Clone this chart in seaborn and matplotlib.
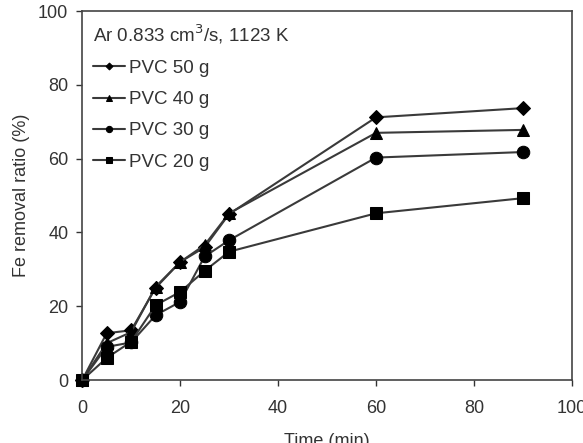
import pandas as pd
import numpy as np
import seaborn as sns
import matplotlib.pyplot as plt

# data
time_min = [0, 5, 10, 15, 20, 25, 30, 60, 90]
pvc_50 = [0, 12.7, 13.5, 25.0, 32.0, 36.0, 45.0, 71.2, 73.7]
pvc_40 = [0, 10.0, 13.0, 25.3, 32.0, 36.6, 45.2, 67.0, 67.8]
pvc_30 = [0, 9.0, 10.2, 17.6, 21.2, 33.5, 37.9, 60.3, 61.8]
pvc_20 = [0, 6.0, 10.4, 20.3, 23.9, 29.6, 34.8, 45.2, 49.3]

labels = ["PVC 50 g", "PVC 40 g", "PVC 30 g", "PVC 20 g"]
series = [pvc_50, pvc_40, pvc_30, pvc_20]
markers = ["D", "^", "o", "s"]
msizes = [7, 8, 9, 8]

df = pd.concat([pd.DataFrame({"Time": time_min, "ratio": v, "series": lab})
                for lab, v in zip(labels, series)], ignore_index=True)

sns.set_style("ticks")
plt.rcParams["font.family"] = ["Liberation Sans", "DejaVu Sans"]

fig = plt.figure(figsize=(5.83, 4.43), dpi=100)
ax = fig.add_axes([0.141, 0.142, 0.840, 0.833])

for lab, m, ms in zip(labels, markers, msizes):
    sns.lineplot(data=df[df["series"] == lab], x="Time", y="ratio", ax=ax,
                 color="#3a3a3a", linewidth=1.5, marker=m, markersize=ms,
                 markerfacecolor="black", markeredgecolor="black",
                 label=lab, clip_on=False)

ax.set_xlim(0, 100)
ax.set_ylim(0, 100)
ax.set_xticks(np.arange(0, 101, 20))
ax.set_yticks(np.arange(0, 101, 20))
ax.tick_params(axis="both", direction="out", length=4, width=1,
               labelsize=13, colors="#333333")
ax.tick_params(axis="x", pad=10)
ax.tick_params(axis="y", pad=6)
for s in ax.spines.values():
    s.set_visible(True)
    s.set_color("#444444")
    s.set_linewidth(1.2)

ax.set_xlabel("Time (min)", fontsize=13, color="#333333", labelpad=12)
ax.set_ylabel("Fe removal ratio (%)", fontsize=13, color="#333333", labelpad=6)

leg = ax.legend(loc="upper left", frameon=False, title="Ar 0.833 cm$^3$/s, 1123 K",
                fontsize=13.5, title_fontsize=13.5, markerscale=0.5,
                handlelength=1.7, handletextpad=0.2, labelspacing=0.75,
                borderaxespad=0.2)
leg._legend_box.align = "left"
for t in leg.get_texts():
    t.set_color("#333333")
leg.get_title().set_color("#333333")

fig.savefig("out.png", dpi=100)
